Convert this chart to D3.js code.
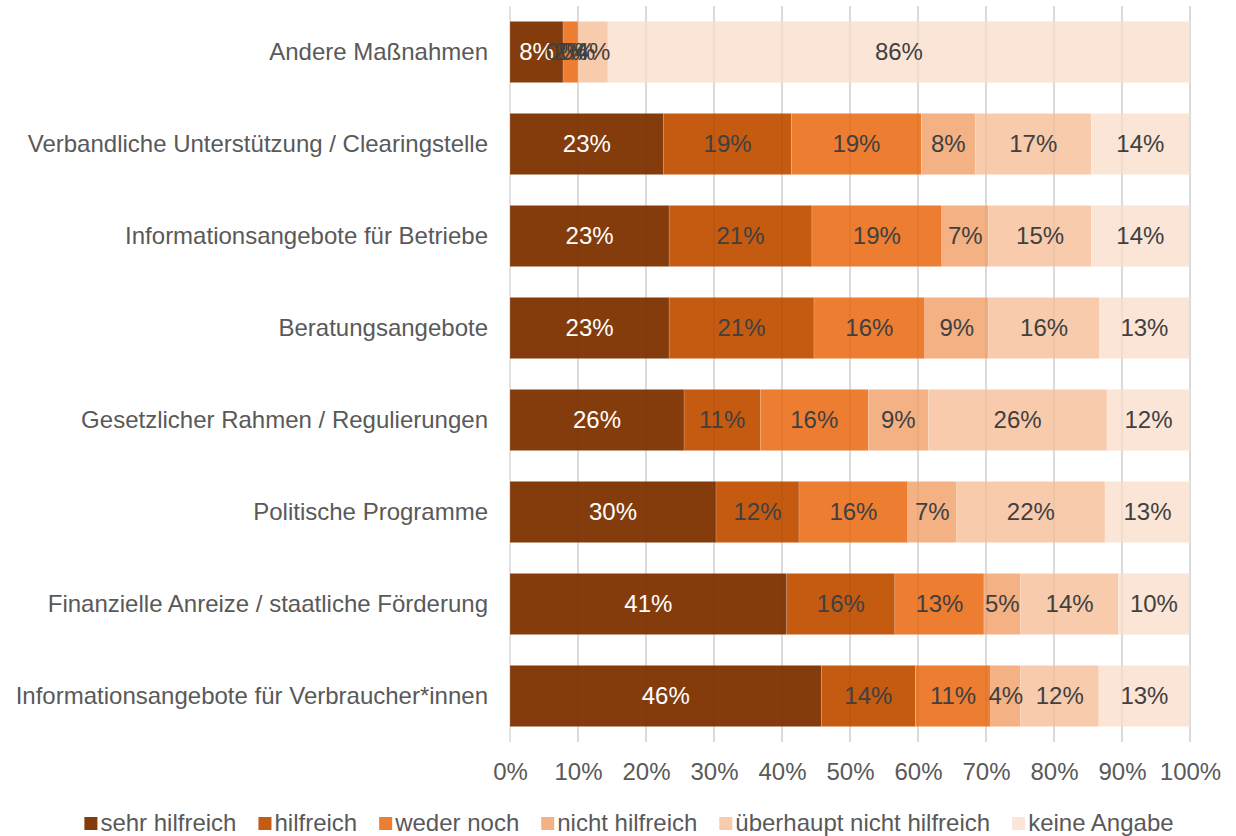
<!DOCTYPE html>
<html>
<head>
<meta charset="utf-8">
<script src="https://cdn.jsdelivr.net/npm/d3@7"></script>
<style>
  html, body { margin: 0; padding: 0; background: #fff; }
  svg { display: block; font-family: "Liberation Sans", Arial, sans-serif; }
</style>
</head>
<body>
<svg id="chart" width="1236" height="836"></svg>
<script>
// Categories, top to bottom
const categories = [
  "Andere Maßnahmen",
  "Verbandliche Unterstützung / Clearingstelle",
  "Informationsangebote für Betriebe",
  "Beratungsangebote",
  "Gesetzlicher Rahmen / Regulierungen",
  "Politische Programme",
  "Finanzielle Anreize / staatliche Förderung",
  "Informationsangebote für Verbraucher*innen"
];

// Answer options (stack order, left to right)
const seriesNames = [
  "sehr hilfreich",
  "hilfreich",
  "weder noch",
  "nicht hilfreich",
  "überhaupt nicht hilfreich",
  "keine Angabe"
];

// Shares in percent, one array per answer option, in category order
const sehrHilfreich   = [7.8, 22.6, 23.4, 23.4, 25.6, 30.3, 40.7, 45.8];
const hilfreich       = [0.0, 18.8, 21.0, 21.3, 11.2, 12.2, 15.9, 13.8];
const wederNoch       = [2.2, 19.1, 19.1, 16.3, 15.9, 16.0, 13.1, 11.1];
const nichtHilfreich  = [0.0,  7.9,  6.9,  9.4,  8.8,  7.2,  5.4,  4.4];
const ueberhauptNicht = [4.4, 17.1, 15.1, 16.3, 26.3, 21.8, 14.4, 11.5];
const keineAngabe     = [85.6, 14.4, 14.4, 13.2, 12.2, 12.5, 10.4, 13.4];

const xTickLabels = ["0%","10%","20%","30%","40%","50%","60%","70%","80%","90%","100%"];

const colors = ["#843C0C", "#C55A11", "#ED7D31", "#F4B183", "#F8CBAD", "#FBE5D6"];
const labelColors = ["#ffffff", "#404040", "#404040", "#404040", "#404040", "#404040"];

const seriesValues = [sehrHilfreich, hilfreich, wederNoch, nichtHilfreich, ueberhauptNicht, keineAngabe];

const rows = categories.map((c, i) => {
  const o = { category: c };
  seriesNames.forEach((s, j) => { o[s] = seriesValues[j][i]; });
  return o;
});

const svg = d3.select("#chart");
const margin = { left: 510, right: 46, top: 6, bottom: 94 };
const W = 1236, H = 836;
const FS = 24;

const x = d3.scaleLinear().domain([0, 100]).range([margin.left, W - margin.right]);
const y = d3.scaleBand().domain(categories).range([margin.top, H - margin.bottom])
  .paddingInner(0.335).paddingOuter(0.1675);

const stacked = d3.stack().keys(seriesNames)(rows);

// Gridlines (under bars)
svg.append("g").selectAll("line").data(d3.range(0, 101, 10)).join("line")
  .attr("x1", d => x(d)).attr("x2", d => x(d))
  .attr("y1", margin.top).attr("y2", H - margin.bottom)
  .attr("stroke", "#d9d9d9").attr("stroke-width", 1.5);

// Bars
const layers = svg.append("g").selectAll("g").data(stacked).join("g")
  .attr("fill", (d, i) => colors[i]);

layers.selectAll("rect").data(d => d).join("rect")
  .attr("x", d => x(d[0]))
  .attr("y", d => y(d.data.category))
  .attr("width", d => Math.max(0, x(d[1]) - x(d[0])))
  .attr("height", y.bandwidth())
  .attr("stroke", "#ffffff").attr("stroke-opacity", 0.3).attr("stroke-width", 0.5);

// Faint gridlines showing through the bars
svg.append("g").selectAll("line").data(d3.range(10, 101, 10)).join("line")
  .attr("x1", d => x(d)).attr("x2", d => x(d))
  .attr("y1", margin.top).attr("y2", H - margin.bottom)
  .attr("stroke", "#000").attr("stroke-opacity", 0.05).attr("stroke-width", 1.5);

// Value labels
stacked.forEach((layer, i) => {
  svg.append("g").selectAll("text").data(layer).join("text")
    .attr("x", d => (x(d[0]) + x(d[1])) / 2)
    .attr("y", d => y(d.data.category) + y.bandwidth() / 2)
    .attr("dy", "0.35em")
    .attr("text-anchor", "middle")
    .attr("font-size", FS)
    .attr("fill", labelColors[i])
    .text(d => Math.round(d[1] - d[0]) + "%");
});

// Category axis labels
svg.append("g").selectAll("text").data(categories).join("text")
  .attr("x", margin.left - 22)
  .attr("y", d => y(d) + y.bandwidth() / 2)
  .attr("dy", "0.35em")
  .attr("text-anchor", "end")
  .attr("font-size", FS)
  .attr("fill", "#595959")
  .text(d => d);

// X axis tick labels
const xAxis = d3.axisBottom(x).tickValues(d3.range(0, 101, 10))
  .tickFormat((d, i) => xTickLabels[i]).tickSize(0).tickPadding(0);
const gx = svg.append("g").attr("transform", `translate(0,${H - margin.bottom + 30})`).call(xAxis);
gx.select(".domain").remove();
gx.selectAll("text").attr("font-size", FS).attr("fill", "#595959").attr("dy", "0.35em")
  .attr("font-family", "Liberation Sans, Arial, sans-serif");

// Legend, centered
const legend = svg.append("g");
const legendY = 823;
const items = [];
let cursor = 0;
const measure = svg.append("text").attr("font-size", FS).attr("visibility", "hidden");
seriesNames.forEach((s, i) => {
  measure.text(s);
  const tw = measure.node().getComputedTextLength();
  items.push({ i, x: cursor, tw });
  cursor += 13 + 3 + tw + 22;
});
measure.remove();
const totalW = cursor - 22;
const startX = 629 - totalW / 2;
items.forEach(it => {
  const g = legend.append("g").attr("transform", `translate(${startX + it.x},${legendY})`);
  g.append("rect").attr("x", 0).attr("y", -6).attr("width", 13).attr("height", 13).attr("fill", colors[it.i]);
  g.append("text").attr("x", 16).attr("y", 0).attr("dy", "0.35em")
    .attr("font-size", FS).attr("fill", "#595959").text(seriesNames[it.i]);
});
</script>
</body>
</html>
